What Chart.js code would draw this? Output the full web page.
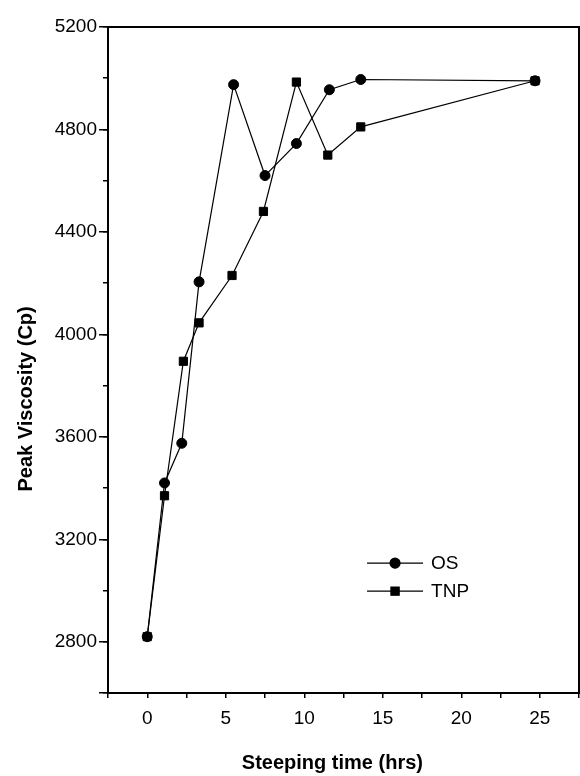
<!DOCTYPE html>
<html>
<head>
<meta charset="utf-8">
<script src="https://cdn.jsdelivr.net/npm/chart.js@4/dist/chart.umd.min.js"></script>
<style>
  html, body { margin: 0; padding: 0; background: #fff; }
  #wrap { width: 580px; height: 776px; }
</style>
</head>
<body>
<div id="wrap"><canvas id="linechart"></canvas></div>
<script>
// steeping time (hrs) and peak viscosity (Cp)
var osHours = [0, 1.1, 2.2, 3.3, 5.5, 7.5, 9.5, 11.6, 13.6, 24.7];
var osViscosity = [2820, 3420, 3575, 4205, 4975, 4620, 4745, 4955, 4995, 4990];
var tnpHours = [0, 1.1, 2.3, 3.3, 5.4, 7.4, 9.5, 11.5, 13.6, 24.7];
var tnpViscosity = [2820, 3370, 3895, 4045, 4230, 4480, 4985, 4700, 4810, 4990];
var seriesNames = ['OS', 'TNP'];

function toPoints(xs, ys) {
	return xs.map(function (x, i) { return { x: x, y: ys[i] }; });
}

Chart.defaults.font.family = '"Liberation Sans", Arial, sans-serif';
Chart.defaults.color = '#000';

// box round the plot area, as in the original figure
var frame = {
	id: 'frame',
	afterDraw: function (chart) {
		var a = chart.chartArea, ctx = chart.ctx;
		ctx.save();
		ctx.strokeStyle = '#000';
		ctx.lineWidth = 2;
		ctx.strokeRect(a.left, a.top, a.right - a.left, a.bottom - a.top);
		ctx.restore();
	}
};

// legend drawn inside the plot, lower right
var innerLegend = {
	id: 'innerLegend',
	afterDraw: function (chart) {
		var a = chart.chartArea, ctx = chart.ctx;
		var x0 = a.left + (a.right - a.left) * 0.55;
		var y0 = a.top + (a.bottom - a.top) * 0.805;
		ctx.save();
		chart.data.datasets.forEach(function (ds, i) {
			var y = y0 + i * 28;
			ctx.strokeStyle = '#000';
			ctx.lineWidth = 1.2;
			ctx.beginPath();
			ctx.moveTo(x0, y);
			ctx.lineTo(x0 + 56, y);
			ctx.stroke();
			Chart.helpers.drawPoint(ctx, {
				pointStyle: ds.pointStyle,
				radius: ds.pointRadius,
				borderWidth: 1
			}, x0 + 28, y);
			ctx.fillStyle = '#000';
			ctx.fill();
			ctx.font = '19px "Liberation Sans", Arial, sans-serif';
			ctx.textBaseline = 'middle';
			ctx.fillText(ds.label, x0 + 64, y + 1);
		});
		ctx.restore();
	}
};

new Chart(document.getElementById('linechart'), {
	type: 'line',
	data: {
		datasets: [{
			label: seriesNames[0],
			data: toPoints(osHours, osViscosity),
			borderColor: '#000',
			backgroundColor: '#000',
			borderWidth: 1.2,
			pointStyle: 'circle',
			pointRadius: 5,
			pointBorderWidth: 1,
			tension: 0
		}, {
			label: seriesNames[1],
			data: toPoints(tnpHours, tnpViscosity),
			borderColor: '#000',
			backgroundColor: '#000',
			borderWidth: 1.2,
			pointStyle: 'rect',
			pointRadius: 5.8,
			pointBorderWidth: 1,
			tension: 0
		}]
	},
	options: {
		responsive: true,
		maintainAspectRatio: false,
		animation: false,
		layout: { autoPadding: false, padding: { top: 27, right: 1, left: 0, bottom: 0 } },
		plugins: {
			legend: { display: false },
			tooltip: { enabled: false }
		},
		scales: {
			x: {
				type: 'linear',
				min: -2.5,
				max: 27.5,
				afterFit: function (scale) {
					scale.height = 83;
					scale.paddingLeft = 0;
					scale.paddingRight = 0;
				},
				border: { display: true, color: '#000', width: 2 },
				grid: { drawOnChartArea: false, drawTicks: true, tickLength: 5, lineWidth: 1.5, color: '#000' },
				ticks: {
					stepSize: 2.5,
					autoSkip: false,
					maxRotation: 0,
					padding: 9,
					font: { size: 19 },
					callback: function (v) { return v % 5 === 0 ? String(v) : ''; }
				},
				title: {
					display: true,
					text: 'Steeping time (hrs)    ',
					font: { size: 20, weight: 'bold' },
					padding: { top: 0, bottom: 1 }
				}
			},
			y: {
				min: 2600,
				max: 5200,
				weight: 1,
				afterFit: function (scale) { scale.width = 108; },
				border: { display: true, color: '#000', width: 2 },
				grid: { drawOnChartArea: false, drawTicks: true, tickLength: 9, lineWidth: 1.5, color: '#000' },
				ticks: {
					stepSize: 400,
					autoSkip: false,
					padding: 2,
					font: { size: 19 },
					callback: function (v) { return v % 400 === 0 ? String(v) : ''; }
				},
				title: {
					display: true,
					text: 'Peak Viscosity (Cp)              ',
					font: { size: 20, weight: 'bold' },
					padding: { top: 14, bottom: 0 }
				}
			},
			// short ticks between the labelled ones
			yMinor: {
				position: 'left',
				min: 2600,
				max: 5200,
				weight: 0,
				afterFit: function (scale) { scale.width = 0; },
				border: { display: false },
				grid: { drawOnChartArea: false, drawTicks: true, tickLength: 5, lineWidth: 1.5, color: '#000' },
				ticks: { stepSize: 200, display: false }
			}
		}
	},
	plugins: [frame, innerLegend]
});
</script>
</body>
</html>
